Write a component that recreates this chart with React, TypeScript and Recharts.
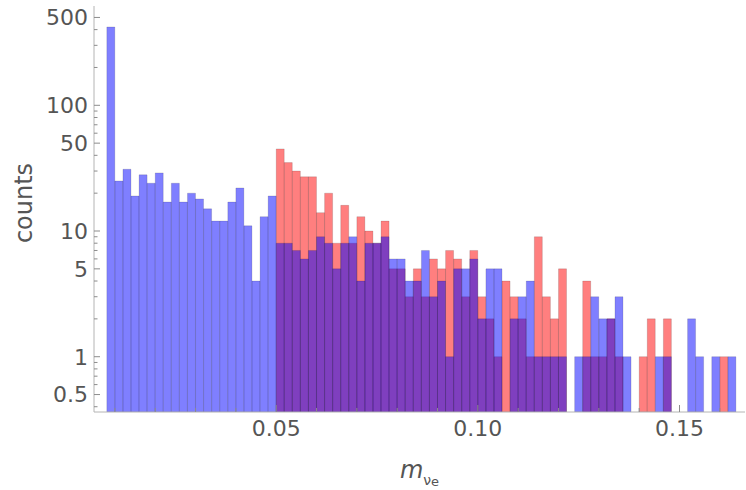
import { ComposedChart, Bar, XAxis, YAxis } from 'recharts';

// histogram bins: 0.008 .. 0.164, width 0.002
const BIN_START = 0.008;
const BIN_WIDTH = 0.002;

const blueCounts = [
  420, 25, 31, 19, 28, 24, 29, 17, 24, 17, 20, 18, 15, 12, 12, 17, 22, 11, 4, 13, 19,
  8, 8, 7, 6, 7, 9, 8, 5, 8, 9, 4, 8, 8, 9, 6, 6, 4, 4, 7, 3, 4, 1, 5, 5, 6, 2, 5, 5,
  0, 2, 3, 4, 1, 1, 1, 1, 0, 1, 1, 3, 2, 2, 3, 1, 0, 0, 0, 1, 1, 0, 0, 2, 1, 0, 1, 0, 1,
];

const redCounts = [
  0, 0, 0, 0, 0, 0, 0, 0, 0, 0, 0, 0, 0, 0, 0, 0, 0, 0, 0, 0, 0,
  45, 35, 30, 27, 27, 14, 20, 8, 16, 8, 13, 10, 8, 12, 5, 5, 3, 5, 3, 6, 5, 7, 6, 3, 7, 3, 2, 1,
  4, 3, 2, 1, 9, 3, 2, 5, 0, 0, 4, 1, 1, 2, 1, 0, 0, 1, 2, 0, 2, 0, 0, 0, 0, 0, 0, 1, 0,
];

const xTicks = [0.01, 0.02, 0.03, 0.04, 0.05, 0.06, 0.07, 0.08, 0.09, 0.1, 0.11, 0.12, 0.13, 0.14, 0.15, 0.16];
const xLabelled = [0.05, 0.1, 0.15];

const yTicks = [
  0.4, 0.5, 0.6, 0.7, 0.8, 0.9, 1, 2, 3, 4, 5, 6, 7, 8, 9,
  10, 20, 30, 40, 50, 60, 70, 80, 90, 100, 200, 300, 400, 500,
];
const yLabelled = [0.5, 1, 5, 10, 50, 100, 500];

const X_DOMAIN: [number, number] = [0.00482, 0.16624];
const Y_DOMAIN: [number, number] = [0.3632, 616.6];

const FRAME = '#b4b4b4';
const TICK = '#8c8c8c';
const TEXT = '#555555';
const FONT = '"DejaVu Sans", sans-serif';

const data = blueCounts.map((b, i) => ({
  x: BIN_START + BIN_WIDTH * (i + 0.5),
  blue: b > 0 ? b : null,
  red: redCounts[i] > 0 ? redCounts[i] : null,
}));

const LeftTick = (props: any) => {
  const { x, y, payload } = props;
  const major = yLabelled.includes(payload.value);
  const ax = x + 6;
  return (
    <g>
      <line x1={ax} x2={ax + (major ? 6 : 3.5)} y1={y} y2={y} stroke={TICK} />
      {major && (
        <text x={x} y={y} dy="0.36em" textAnchor="end" fontSize={22} fontFamily={FONT} fill={TEXT}>
          {String(payload.value)}
        </text>
      )}
    </g>
  );
};

const RightTick = (props: any) => {
  const { x, y, payload } = props;
  const major = yLabelled.includes(payload.value);
  return <line x1={x} x2={x - (major ? 6 : 3.5)} y1={y} y2={y} stroke={TICK} />;
};

const BottomTick = (props: any) => {
  const { x, y, payload } = props;
  const major = xLabelled.includes(payload.value);
  const ay = y - 10;
  return (
    <g>
      <line x1={x} x2={x} y1={ay} y2={ay - (major ? 7 : 4)} stroke={TICK} />
      {major && (
        <text x={x} y={ay + 24} textAnchor="middle" fontSize={22} fontFamily={FONT} fill={TEXT}>
          {payload.value.toFixed(2)}
        </text>
      )}
    </g>
  );
};

const TopTick = (props: any) => {
  const { x, y, payload } = props;
  const major = xLabelled.includes(payload.value);
  return <line x1={x} x2={x} y1={y} y2={y + (major ? 7 : 4)} stroke={TICK} />;
};

const XLabel = (props: any) => {
  const vb = props.viewBox;
  return (
    <text x={vb.x + vb.width / 2} y={vb.y + 66} textAnchor="middle" fontFamily={FONT} fill={TEXT}>
      <tspan fontStyle="italic" fontSize={24}>m</tspan>
      <tspan fontSize={14} dy={7}>ν</tspan>
      <tspan fontSize={13} dy={1}>e</tspan>
    </text>
  );
};

const YLabel = (props: any) => {
  const vb = props.viewBox;
  const cx = 32;
  const cy = vb.y + vb.height / 2 - 6;
  return (
    <text
      x={cx}
      y={cy}
      transform={`rotate(-90 ${cx} ${cy})`}
      textAnchor="middle"
      fontSize={24}
      fontFamily={FONT}
      fill={TEXT}
    >
      counts
    </text>
  );
};

export default function App() {
  return (
    <div style={{ position: 'absolute', left: 0, top: 0, width: 746, height: 490, background: '#fff' }}>
      <ComposedChart
        width={746}
        height={490}
        data={data}
        margin={{ top: 6, right: 1, bottom: 0, left: 0 }}
        barCategoryGap={0}
        barGap={0}
      >
        <XAxis
          xAxisId="bottom"
          dataKey="x"
          type="number"
          domain={X_DOMAIN}
          allowDataOverflow
          ticks={xTicks}
          interval={0}
          height={78}
          tickSize={0}
          tickMargin={10}
          tickLine={false}
          axisLine={{ stroke: FRAME }}
          tick={BottomTick}
          label={<XLabel />}
        />
        <XAxis xAxisId="red" dataKey="x" type="number" domain={X_DOMAIN} allowDataOverflow hide />
        <XAxis
          xAxisId="top"
          orientation="top"
          dataKey="x"
          type="number"
          domain={X_DOMAIN}
          allowDataOverflow
          ticks={xTicks}
          interval={0}
          height={0}
          tickSize={0}
          tickMargin={0}
          tickLine={false}
          axisLine={{ stroke: FRAME }}
          tick={TopTick}
        />
        <YAxis
          yAxisId="left"
          scale="log"
          type="number"
          domain={Y_DOMAIN}
          allowDataOverflow
          ticks={yTicks}
          interval={0}
          width={94}
          tickSize={0}
          tickMargin={6}
          tickLine={false}
          axisLine={{ stroke: FRAME }}
          tick={LeftTick}
          label={<YLabel />}
        />
        <YAxis
          yAxisId="right"
          orientation="right"
          scale="log"
          type="number"
          domain={Y_DOMAIN}
          allowDataOverflow
          ticks={yTicks}
          interval={0}
          width={0}
          tickSize={0}
          tickMargin={0}
          tickLine={false}
          axisLine={{ stroke: FRAME }}
          tick={RightTick}
        />
        <Bar
          dataKey="red"
          xAxisId="red"
          yAxisId="left"
          fill="#ff0000"
          fillOpacity={0.5}
          stroke="#000"
          strokeOpacity={0.22}
          strokeWidth={0.6}
          isAnimationActive={false}
        />
        <Bar
          dataKey="blue"
          xAxisId="bottom"
          yAxisId="left"
          fill="#0000ff"
          fillOpacity={0.5}
          stroke="#000"
          strokeOpacity={0.22}
          strokeWidth={0.6}
          isAnimationActive={false}
        />
      </ComposedChart>
    </div>
  );
}
